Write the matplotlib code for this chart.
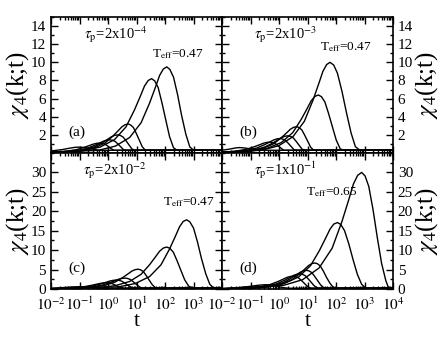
import math
import matplotlib
matplotlib.use("Agg")
import matplotlib.pyplot as plt
from matplotlib.ticker import LogLocator, MultipleLocator, NullFormatter, FixedLocator, FuncFormatter

plt.rcParams['font.family'] = ['Liberation Serif', 'DejaVu Serif']
plt.rcParams['mathtext.fontset'] = 'stix'

# ---- data: log10(t) and chi4 for each curve, per panel ----
# panel (a)  tau_p = 2x10^-4
a_lt = [
    [-2, -0.34, 0.26, 0.76, 1.16, 1.46, 1.66, 1.81, 1.94, 2.06, 2.17, 2.30, 2.44, 2.58, 2.73, 2.87, 3.01, 4],
    [-2, -0.87, -0.27, 0.23, 0.63, 0.93, 1.13, 1.28, 1.41, 1.53, 1.64, 1.76, 1.89, 2.03, 2.16, 2.30, 2.43, 4],
    [-2, -1.45, -0.91, -0.46, -0.10, 0.17, 0.35, 0.485, 0.60, 0.71, 0.79, 0.89, 0.99, 1.10, 1.20, 1.31, 4],
    [-2, -1.81, -1.27, -0.82, -0.46, -0.19, -0.01, 0.125, 0.24, 0.35, 0.43, 0.53, 0.63, 0.74, 0.84, 0.95, 4],
    [-2, -1.55, -1.10, -0.74, -0.47, -0.29, -0.155, -0.04, 0.07, 0.15, 0.25, 0.35, 0.46, 0.56, 0.67, 4],
    [-2, -1.45, -1.09, -0.82, -0.64, -0.505, -0.39, -0.28, -0.20, -0.10, 0.0, 0.11, 0.21, 4],
    [-2, -1.6, -1.35, -1.15, -1.0, -0.82, -0.64, -0.46, -0.28, 4],
]
a_chi = [
    [0.1, 0.29, 0.76, 1.71, 3.33, 5.51, 7.22, 8.55, 9.26, 9.5, 9.22, 8.36, 6.46, 4.18, 2.09, 0.67, 0.3, 0.3],
    [0.1, 0.25, 0.66, 1.48, 2.87, 4.76, 6.23, 7.38, 8.0, 8.2, 7.95, 7.22, 5.58, 3.61, 1.80, 0.57, 0.3, 0.3],
    [0.05, 0.10, 0.26, 0.58, 1.12, 1.86, 2.43, 2.88, 3.12, 3.2, 3.10, 2.82, 2.18, 1.41, 0.70, 0.3, 0.3],
    [0.05, 0.06, 0.16, 0.36, 0.70, 1.16, 1.52, 1.80, 1.95, 2.0, 1.94, 1.76, 1.36, 0.88, 0.44, 0.3, 0.3],
    [0.05, 0.12, 0.26, 0.51, 0.84, 1.10, 1.31, 1.41, 1.45, 1.41, 1.28, 0.99, 0.64, 0.32, 0.3, 0.3],
    [0.06, 0.2, 0.385, 0.64, 0.84, 0.99, 1.07, 1.1, 1.07, 0.97, 0.75, 0.48, 0.3, 0.3],
    [0.22, 0.38, 0.53, 0.63, 0.65, 0.6, 0.5, 0.38, 0.3, 0.3],
]
# panel (b)  tau_p = 2x10^-3
b_lt = [
    [-2, -0.61, -0.01, 0.49, 0.89, 1.19, 1.39, 1.54, 1.67, 1.79, 1.92, 2.05, 2.21, 2.37, 2.53, 2.68, 2.84, 4],
    [-2, -1.02, -0.42, 0.08, 0.48, 0.78, 0.98, 1.13, 1.26, 1.38, 1.49, 1.61, 1.74, 1.88, 2.01, 2.15, 2.28, 4],
    [-2, -1.54, -1.00, -0.55, -0.19, 0.08, 0.26, 0.395, 0.51, 0.62, 0.70, 0.80, 0.90, 1.01, 1.11, 1.22, 4],
    [-2, -1.84, -1.30, -0.85, -0.49, -0.22, -0.04, 0.095, 0.21, 0.32, 0.40, 0.50, 0.60, 0.71, 0.81, 0.92, 4],
    [-2, -1.58, -1.13, -0.77, -0.50, -0.32, -0.185, -0.07, 0.04, 0.12, 0.22, 0.32, 0.43, 0.53, 0.64, 4],
    [-2, -1.49, -1.13, -0.86, -0.68, -0.545, -0.43, -0.32, -0.24, -0.14, -0.04, 0.07, 0.17, 4],
    [-2, -1.75, -1.52, -1.37, -1.2, -1.0, -0.8, -0.6, 4],
]
b_chi = [
    [0.1, 0.3, 0.8, 1.8, 3.5, 5.8, 7.6, 9.0, 9.75, 10.0, 9.7, 8.8, 6.8, 4.4, 2.2, 0.7, 0.3, 0.3],
    [0.1, 0.19, 0.51, 1.15, 2.24, 3.71, 4.86, 5.76, 6.24, 6.4, 6.21, 5.63, 4.35, 2.82, 1.41, 0.45, 0.3, 0.3],
    [0.05, 0.09, 0.23, 0.52, 1.02, 1.68, 2.20, 2.61, 2.83, 2.9, 2.81, 2.55, 1.97, 1.28, 0.64, 0.3, 0.3],
    [0.05, 0.06, 0.15, 0.34, 0.67, 1.10, 1.44, 1.71, 1.85, 1.9, 1.84, 1.67, 1.29, 0.84, 0.42, 0.3, 0.3],
    [0.06, 0.13, 0.29, 0.56, 0.93, 1.22, 1.44, 1.56, 1.6, 1.55, 1.41, 1.09, 0.70, 0.35, 0.3, 0.3],
    [0.08, 0.22, 0.42, 0.70, 0.91, 1.08, 1.17, 1.2, 1.16, 1.06, 0.82, 0.53, 0.3, 0.3],
    [0.3, 0.42, 0.56, 0.6, 0.55, 0.45, 0.36, 0.3, 0.3],
]
# panel (c)  tau_p = 2x10^-2
c_lt = [
    [-2, 0.36, 0.96, 1.46, 1.86, 2.16, 2.36, 2.51, 2.64, 2.76, 2.87, 3.00, 3.14, 3.28, 3.43, 3.57, 3.71, 4],
    [-2, -0.34, 0.26, 0.76, 1.16, 1.46, 1.66, 1.81, 1.94, 2.06, 2.17, 2.29, 2.42, 2.56, 2.69, 2.83, 2.96, 4],
    [-2, -1.10, -0.56, -0.11, 0.25, 0.52, 0.70, 0.835, 0.95, 1.06, 1.14, 1.24, 1.34, 1.45, 1.55, 1.66, 1.76, 4],
    [-2, -1.56, -1.02, -0.57, -0.21, 0.06, 0.24, 0.375, 0.49, 0.6, 0.68, 0.78, 0.88, 0.99, 1.09, 1.20, 4],
    [-2, -1.86, -1.32, -0.87, -0.51, -0.24, -0.06, 0.075, 0.19, 0.3, 0.38, 0.48, 0.58, 0.69, 0.79, 0.90, 4],
    [-2, -1.67, -1.22, -0.86, -0.59, -0.41, -0.275, -0.16, -0.05, 0.03, 0.13, 0.23, 0.34, 0.44, 0.55, 4],
    [-2, -1.6, -1.3, -1.0, -0.8, -0.6, -0.4, -0.2, 4],
]
c_chi = [
    [0.1, 0.53, 1.42, 3.2, 6.23, 10.3, 13.5, 16.0, 17.4, 17.8, 17.3, 15.7, 12.1, 7.83, 3.92, 1.25, 0.2, 0.2],
    [0.1, 0.32, 0.86, 1.94, 3.78, 6.26, 8.21, 9.72, 10.53, 10.8, 10.48, 9.50, 7.34, 4.75, 2.38, 0.76, 0.2, 0.2],
    [0.05, 0.15, 0.41, 0.92, 1.79, 2.96, 3.88, 4.59, 4.97, 5.1, 4.95, 4.49, 3.47, 2.24, 1.12, 0.36, 0.2, 0.2],
    [0.05, 0.08, 0.22, 0.50, 0.98, 1.62, 2.13, 2.52, 2.73, 2.8, 2.72, 2.46, 1.90, 1.23, 0.62, 0.2, 0.2],
    [0.05, 0.07, 0.18, 0.41, 0.81, 1.33, 1.75, 2.07, 2.24, 2.3, 2.23, 2.02, 1.56, 1.01, 0.51, 0.2, 0.2],
    [0.06, 0.13, 0.29, 0.56, 0.93, 1.22, 1.44, 1.56, 1.6, 1.55, 1.41, 1.09, 0.70, 0.35, 0.2, 0.2],
    [0.2, 0.35, 0.5, 0.6, 0.52, 0.38, 0.25, 0.2, 0.2],
]
# panel (d)  tau_p = 1x10^-1
d_lt = [
    [-2, 0.14, 0.83, 1.405, 1.865, 2.21, 2.44, 2.61, 2.76, 2.9, 3.02, 3.15, 3.30, 3.45, 3.60, 3.75, 3.85, 4],
    [-2, -0.47, 0.16, 0.685, 1.105, 1.42, 1.63, 1.79, 1.92, 2.05, 2.17, 2.30, 2.45, 2.60, 2.75, 2.90, 3.05, 4],
    [-2, -0.9, -0.36, 0.09, 0.45, 0.72, 0.90, 1.035, 1.15, 1.26, 1.35, 1.45, 1.56, 1.67, 1.79, 1.90, 2.01, 4],
    [-2, -1.19, -0.65, -0.20, 0.16, 0.43, 0.61, 0.745, 0.86, 0.97, 1.05, 1.15, 1.25, 1.36, 1.46, 1.57, 1.67, 4],
    [-2, -1.42, -0.88, -0.43, -0.07, 0.20, 0.38, 0.515, 0.63, 0.74, 0.82, 0.92, 1.02, 1.13, 1.23, 1.34, 1.44, 4],
    [-2, -1.66, -1.12, -0.67, -0.31, -0.04, 0.14, 0.275, 0.39, 0.5, 0.58, 0.68, 0.78, 0.89, 0.99, 1.10, 1.20, 4],
    [-2, -1.5, -1.1, -0.8, -0.6, -0.43, -0.25, -0.05, 0.15, 0.35, 4],
]
d_chi = [
    [0.1, 0.9, 2.4, 5.4, 10.5, 17.4, 22.8, 27.0, 29.25, 30.0, 29.1, 26.4, 20.4, 13.2, 6.6, 2.1, 0.2, 0.2],
    [0.1, 0.51, 1.37, 3.08, 5.99, 9.92, 13.0, 15.4, 16.7, 17.1, 16.6, 15.0, 11.6, 7.52, 3.76, 1.20, 0.2, 0.2],
    [0.05, 0.2, 0.54, 1.21, 2.35, 3.89, 5.09, 6.03, 6.53, 6.7, 6.5, 5.9, 4.56, 2.95, 1.47, 0.47, 0.2, 0.2],
    [0.05, 0.14, 0.38, 0.86, 1.68, 2.78, 3.65, 4.32, 4.68, 4.8, 4.66, 4.22, 3.26, 2.11, 1.06, 0.34, 0.2, 0.2],
    [0.05, 0.12, 0.31, 0.70, 1.37, 2.26, 2.96, 3.51, 3.80, 3.9, 3.78, 3.43, 2.65, 1.72, 0.86, 0.27, 0.2, 0.2],
    [0.05, 0.10, 0.26, 0.59, 1.16, 1.91, 2.51, 2.97, 3.22, 3.3, 3.20, 2.90, 2.24, 1.45, 0.73, 0.23, 0.2, 0.2],
    [0.1, 0.3, 0.6, 0.9, 1.05, 1.1, 0.95, 0.65, 0.35, 0.2, 0.2],
]

panel_labels = ['(a)', '(b)', '(c)', '(d)']
tau_labels = [r'$\tau_{\rm p}$=2x10$^{-4}$', r'$\tau_{\rm p}$=2x10$^{-3}$',
              r'$\tau_{\rm p}$=2x10$^{-2}$', r'$\tau_{\rm p}$=1x10$^{-1}$']
teff_labels = [r'T$_{\rm eff}$=0.47', r'T$_{\rm eff}$=0.47',
               r'T$_{\rm eff}$=0.47', r'T$_{\rm eff}$=0.65']
top_yticks = [2, 4, 6, 8, 10, 12, 14]
bot_yticks = [0, 5, 10, 15, 20, 25, 30]
xtick_exps_c = [-2, -1, 0, 1, 2, 3]
xtick_exps_d = [-2, -1, 0, 1, 2, 3, 4]

W, H = 443, 342
fig = plt.figure(figsize=(W / 100, H / 100), dpi=100)

L, M, R = 51, 222, 393
T, C, B = 17, 153, 289
def rect(x0, x1, y0, y1):
    return [x0 / W, 1 - y1 / H, (x1 - x0) / W, (y1 - y0) / H]

axes = [fig.add_axes(rect(L, M, T, C)), fig.add_axes(rect(M, R, T, C)),
        fig.add_axes(rect(L, M, C, B)), fig.add_axes(rect(M, R, C, B))]
data = [(a_lt, a_chi), (b_lt, b_chi), (c_lt, c_chi), (d_lt, d_chi)]

tau_pos = [(0.195, 0.87), (0.19, 0.87), (0.19, 0.87), (0.19, 0.87)]
teff_pos = [(0.59, 0.73), (0.575, 0.78), (0.655, 0.64), (0.49, 0.71)]

for i, ax in enumerate(axes):
    lts, chis = data[i]
    for lt, ch in zip(lts, chis):
        ax.plot([10 ** x for x in lt], ch, color='black', lw=1.0)
    ax.set_xscale('log')
    ax.set_xlim(1e-2, 1e4)
    top = i < 2
    ax.set_ylim(0, 15 if top else 35)
    ax.yaxis.set_major_locator(FixedLocator(top_yticks if top else bot_yticks))
    ax.yaxis.set_minor_locator(MultipleLocator(1 if top else 2.5))
    ax.xaxis.set_major_locator(FixedLocator([10.0 ** e for e in range(-2, 5)]))
    ax.xaxis.set_minor_locator(LogLocator(base=10, subs=range(2, 10), numticks=20))
    ax.xaxis.set_minor_formatter(NullFormatter())
    ax.tick_params(which='both', direction='in', top=True, bottom=True, left=True, right=True,
                   labelsize=11, width=1)
    ax.tick_params(which='major', length=5)
    ax.tick_params(which='minor', length=2.5)
    ax.tick_params(axis='x', pad=5)
    for s in ax.spines.values():
        s.set_linewidth(1.2)
    if top:
        ax.tick_params(labelbottom=False)
    else:
        exps = xtick_exps_c if i == 2 else xtick_exps_d
        ax.xaxis.set_major_formatter(FuncFormatter(
            lambda v, p, exps=exps: (r'$10^{%d}$' % round(math.log10(v)))
            if round(math.log10(v)) in exps else ''))
        ax.set_xlabel('t', fontsize=16, labelpad=-1)
    if i % 2 == 0:
        ax.tick_params(labelleft=True, labelright=False)
        ax.set_ylabel(r'$\chi_4$(k;t)', fontsize=18, labelpad=0)
    else:
        ax.tick_params(labelleft=False, labelright=True)
        ax.yaxis.set_label_position('right')
        ax.set_ylabel(r'$\chi_4$(k;t)', fontsize=18, labelpad=0)
    ax.text(tau_pos[i][0], tau_pos[i][1], tau_labels[i], transform=ax.transAxes,
            fontsize=10.5, va='center', ha='left')
    ax.text(teff_pos[i][0], teff_pos[i][1], teff_labels[i], transform=ax.transAxes,
            fontsize=9.5, va='center', ha='left')
    ax.text(0.10, 0.15, panel_labels[i], transform=ax.transAxes,
            fontsize=11, va='center', ha='left')

fig.savefig('out.png', dpi=100)
